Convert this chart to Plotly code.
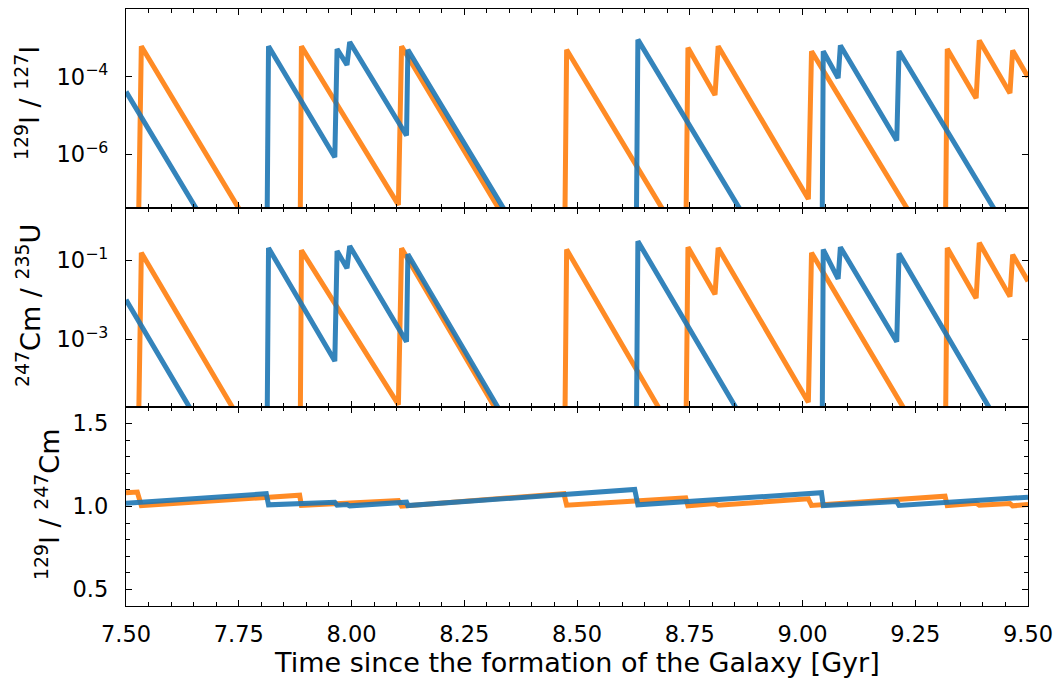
import numpy as np
import plotly.graph_objects as go
from plotly.subplots import make_subplots

# ---------------- data ----------------
# Top panel: log10(129I/127I)
t_top_blue = [7.500, 7.811, 7.816, 7.963, 7.968, 7.990, 7.996, 8.122, 8.125, 8.628, 8.635,
              9.042, 9.046, 9.079, 9.084, 9.209, 9.214, 9.500]
l_top_blue = [-4.38, -10.4, -3.21, -6.07, -3.28, -3.69, -3.10, -5.51, -3.30, -13.0, -3.04,
              -10.9, -3.34, -4.03, -3.19, -5.64, -3.34, -8.85]
t_top_orange = [7.500, 7.526, 7.534, 7.885, 7.889, 8.104, 8.111, 8.471, 8.477, 8.741, 8.746,
                8.806, 8.813, 9.013, 9.020, 9.316, 9.321, 9.385, 9.392, 9.460, 9.466, 9.500]
l_top_orange = [-8.6, -9.1, -3.21, -10.0, -3.21, -7.30, -3.21, -10.2, -3.30, -8.4, -3.25,
                -4.47, -3.21, -7.15, -3.34, -9.0, -3.28, -4.55, -3.06, -4.42, -3.32, -4.00]

# Middle panel: log10(247Cm/235U)
t_mid_blue = t_top_blue
l_mid_blue = [-2.00, -8.0, -0.69, -3.55, -0.77, -1.20, -0.64, -3.06, -0.85, -10.6, -0.52,
              -8.4, -0.73, -1.47, -0.67, -3.06, -0.83, -6.4]
t_mid_orange = t_top_orange
l_mid_orange = [-6.0, -6.5, -0.81, -7.6, -0.75, -4.65, -0.70, -7.7, -0.73, -5.9, -0.67,
                -1.86, -0.69, -4.59, -0.81, -6.5, -0.69, -1.96, -0.56, -1.92, -0.86, -1.53]

# Bottom panel: 129I/247Cm
t_bot_blue = t_top_blue
r_bot_blue = [1.020, 1.077, 1.010, 1.026, 1.008, 1.012, 1.004, 1.026, 1.006, 1.103, 1.010,
              1.083, 1.006, 1.012, 1.008, 1.030, 1.006, 1.056]
t_bot_orange = [7.500, 7.525, 7.534, 7.885, 7.889, 8.104, 8.111, 8.471, 8.477, 8.741, 8.746,
                8.806, 8.813, 9.013, 9.020, 9.316, 9.321, 9.385, 9.392, 9.460, 9.466, 9.500]
r_bot_orange = [1.083, 1.087, 1.006, 1.068, 1.006, 1.036, 1.002, 1.077, 1.008, 1.052, 1.004,
                1.018, 1.008, 1.046, 1.006, 1.062, 1.006, 1.020, 1.008, 1.018, 1.004, 1.012]

x_ticks = [7.50, 7.75, 8.00, 8.25, 8.50, 8.75, 9.00, 9.25, 9.50]
top_ticks = [1e-6, 1e-4]
top_ticktext = ["10<sup>\u22126</sup>", "10<sup>\u22124</sup>"]
mid_ticks = [1e-3, 1e-1]
mid_ticktext = ["10<sup>\u22123</sup>", "10<sup>\u22121</sup>"]
bot_ticks = [0.5, 1.0, 1.5]

BLUE = "#1f77b4"
ORANGE = "#ff7f0e"
FONT = "DejaVu Sans"
TICKFS = 22.5
LABFS = 27

fig = make_subplots(rows=3, cols=1, shared_xaxes=True, vertical_spacing=0)

def add(row, t, y, color):
    fig.add_trace(go.Scatter(x=t, y=y, mode="lines", line=dict(color=color, width=5),
                             opacity=0.9, showlegend=False, hoverinfo="skip"), row=row, col=1)

add(1, t_top_orange, list(np.power(10.0, l_top_orange)), ORANGE)
add(1, t_top_blue, list(np.power(10.0, l_top_blue)), BLUE)
add(2, t_mid_orange, list(np.power(10.0, l_mid_orange)), ORANGE)
add(2, t_mid_blue, list(np.power(10.0, l_mid_blue)), BLUE)
add(3, t_bot_orange, r_bot_orange, ORANGE)
add(3, t_bot_blue, r_bot_blue, BLUE)

common = dict(showline=True, linecolor="black", linewidth=1.3, mirror="allticks",
              ticks="inside", tickcolor="black", tickwidth=1.3, showgrid=False,
              zeroline=False, tickfont=dict(family=FONT, size=TICKFS, color="black"))

for r in (1, 2, 3):
    fig.update_xaxes(range=[7.5, 9.5], tickvals=x_ticks,
                     ticktext=[f"{v:.2f}" for v in x_ticks], ticklen=6,
                     minor=dict(dtick=0.05, tick0=7.5, ticks="inside", ticklen=3.5,
                                tickcolor="black", tickwidth=1.1, showgrid=False),
                     showticklabels=(r == 3), ticklabelstandoff=8, row=r, col=1, **common)

fig.update_yaxes(type="log", range=[-7.38, -2.25], tickvals=top_ticks, ticktext=top_ticktext,
                 ticklen=6, ticklabelstandoff=12, row=1, col=1, **common)
fig.update_yaxes(type="log", range=[-4.71, 0.32], tickvals=mid_ticks, ticktext=mid_ticktext,
                 ticklen=6, ticklabelstandoff=12, row=2, col=1, **common)
fig.update_yaxes(range=[0.4, 1.6], tickvals=bot_ticks, ticktext=[f"{v:.1f}" for v in bot_ticks],
                 ticklen=6, ticklabelstandoff=12,
                 minor=dict(dtick=0.1, tick0=0.0, ticks="inside", ticklen=3.5,
                            tickcolor="black", tickwidth=1.1, showgrid=False),
                 row=3, col=1, **common)

L, R, T, B = 126, 33, 9, 79
W, H = 1061, 685
pw, ph = W - L - R, H - T - B

def px(x):
    return (x - L) / pw

def py(y):
    return (H - B - y) / ph

labels = [
    ("<sup>129</sup>I / <sup>127</sup>I", 27, 103),
    ("<sup>247</sup>Cm / <sup>235</sup>U", 28, 306),
    ("<sup>129</sup>I / <sup>247</sup>Cm", 47, 504),
]
for text, xx, yy in labels:
    fig.add_annotation(text=text, xref="paper", yref="paper", x=px(xx), y=py(yy),
                       xanchor="center", yanchor="middle", textangle=-90, showarrow=False,
                       font=dict(family=FONT, size=LABFS, color="black"))

fig.add_annotation(text="Time since the formation of the Galaxy [Gyr]", xref="paper",
                   yref="paper", x=px(577), y=py(662), xanchor="center", yanchor="middle",
                   showarrow=False, font=dict(family=FONT, size=LABFS, color="black"))

fig.update_layout(width=W, height=H, margin=dict(l=L, r=R, t=T, b=B),
                  paper_bgcolor="white", plot_bgcolor="white",
                  font=dict(family=FONT, color="black"))

fig.write_html("out.html")
